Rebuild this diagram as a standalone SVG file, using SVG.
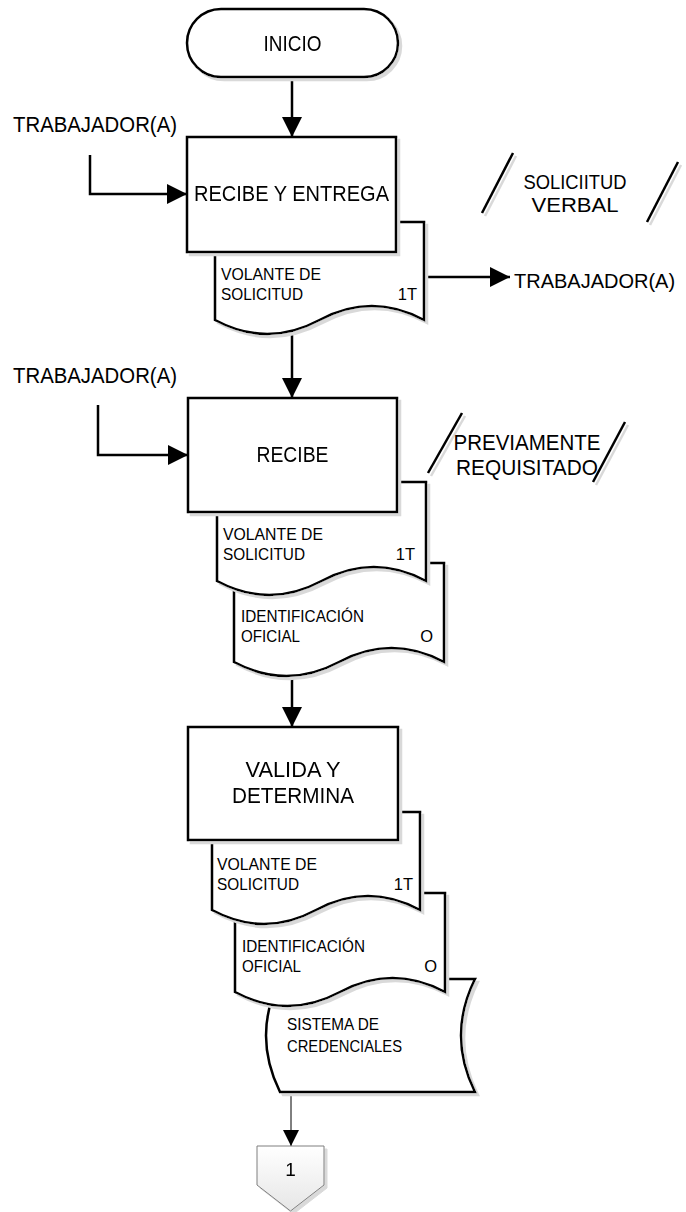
<svg xmlns="http://www.w3.org/2000/svg" width="686" height="1212" viewBox="0 0 686 1212">
<style>
.s{fill:#fff;stroke:#000;stroke-width:2.5;stroke-linejoin:miter}
.c{fill:none;stroke:#000;stroke-width:2.5}
.t{font-family:"Liberation Sans",Arial,sans-serif;fill:#000}
.b{font-size:22px}
.d{font-size:16.5px}
.m{text-anchor:middle}
.e{text-anchor:end}
</style>
<defs>
<filter id="sh" filterUnits="userSpaceOnUse" x="0" y="0" width="686" height="1212">
<feOffset in="SourceAlpha" dx="3" dy="3" result="o"/>
<feFlood flood-color="#d9d9d9"/>
<feComposite in2="o" operator="in" result="s"/>
<feMerge><feMergeNode in="s"/><feMergeNode in="SourceGraphic"/></feMerge>
</filter>
<marker id="ah" markerUnits="userSpaceOnUse" markerWidth="20" markerHeight="20" refX="20" refY="10" orient="auto">
<path d="M0,0 L20,10 L0,20 Z" fill="#000"/>
</marker>
<marker id="as" markerUnits="userSpaceOnUse" markerWidth="16" markerHeight="16" refX="16" refY="8" orient="auto">
<path d="M0,0 L16,8 L0,16 Z" fill="#000"/>
</marker>
<linearGradient id="pg" x1="0" y1="0" x2="0" y2="1">
<stop offset="0" stop-color="#ffffff"/>
<stop offset="1" stop-color="#e6e6e6"/>
</linearGradient>
</defs>

<g id="connectors">
<path class="c" d="M292,77 V137" marker-end="url(#ah)"/>
<path class="c" d="M90,155 V194 H187" marker-end="url(#ah)"/>
<path class="c" d="M424,277 H510" marker-end="url(#ah)"/>
<path class="c" d="M292,334 V398" marker-end="url(#ah)"/>
<path class="c" d="M98,405 V455 H188" marker-end="url(#ah)"/>
<path class="c" d="M292,676 V727" marker-end="url(#ah)"/>
<path d="M291,1092 V1146" fill="none" stroke="#000" stroke-width="1" marker-end="url(#as)"/>
</g>

<g id="inicio" filter="url(#sh)">
<rect class="s" x="187" y="9" width="211" height="68" rx="34" ry="34"/>
<text class="t b m" x="292.5" y="51" textLength="58" lengthAdjust="spacingAndGlyphs">INICIO</text>
</g>

<g id="trabajador1">
<text class="t b" x="13" y="132" textLength="164" lengthAdjust="spacingAndGlyphs">TRABAJADOR(A)</text>
</g>

<g id="doc1" filter="url(#sh)">
<path class="s" d="M215,320 V222 H424 V320 Q371.75,292 319.5,320 T215,320 Z"/>
</g>
<g id="doc1-text">
<text class="t d" x="221" y="280" textLength="100" lengthAdjust="spacingAndGlyphs">VOLANTE DE</text>
<text class="t d" x="221" y="300" textLength="82" lengthAdjust="spacingAndGlyphs">SOLICITUD</text>
<text class="t d e" x="417" y="300">1T</text>
</g>

<g id="box1" filter="url(#sh)">
<rect class="s" x="187" y="137" width="209" height="115"/>
<text class="t b m" x="291.5" y="201" textLength="195" lengthAdjust="spacingAndGlyphs">RECIBE Y ENTREGA</text>
</g>

<g id="nota1" filter="url(#sh)">
<line class="c" x1="513" y1="153" x2="482" y2="213"/>
<line class="c" x1="678" y1="162" x2="647" y2="222"/>
</g>
<g id="nota1-text">
<text class="t m" font-size="21" x="575" y="189" textLength="103" lengthAdjust="spacingAndGlyphs">SOLICIITUD</text>
<text class="t m" font-size="21" x="575" y="212" textLength="87" lengthAdjust="spacingAndGlyphs">VERBAL</text>
</g>

<g id="trabajador-salida">
<text class="t" font-size="20" x="514" y="288">TRABAJADOR(A)</text>
</g>

<g id="trabajador2">
<text class="t b" x="13" y="383" textLength="164" lengthAdjust="spacingAndGlyphs">TRABAJADOR(A)</text>
</g>

<g id="doc2b" filter="url(#sh)">
<path class="s" d="M234,662 V563 H444 V662 Q391.5,634 339,662 T234,662 Z"/>
</g>
<g id="doc2b-text">
<text class="t d" x="241" y="622" textLength="123" lengthAdjust="spacingAndGlyphs">IDENTIFICACIÓN</text>
<text class="t d" x="241" y="642" textLength="59" lengthAdjust="spacingAndGlyphs">OFICIAL</text>
<text class="t d e" x="433" y="642">O</text>
</g>

<g id="doc2a" filter="url(#sh)">
<path class="s" d="M217,581 V482 H426 V581 Q373.75,553 321.5,581 T217,581 Z"/>
</g>
<g id="doc2a-text">
<text class="t d" x="223" y="540" textLength="100" lengthAdjust="spacingAndGlyphs">VOLANTE DE</text>
<text class="t d" x="223" y="560" textLength="82" lengthAdjust="spacingAndGlyphs">SOLICITUD</text>
<text class="t d e" x="415" y="560">1T</text>
</g>

<g id="box2" filter="url(#sh)">
<rect class="s" x="188" y="398" width="209" height="114"/>
<text class="t b m" x="292.5" y="462" textLength="72" lengthAdjust="spacingAndGlyphs">RECIBE</text>
</g>

<g id="nota2" filter="url(#sh)">
<line class="c" x1="462" y1="413" x2="428" y2="473"/>
<line class="c" x1="625" y1="422" x2="593" y2="482"/>
</g>
<g id="nota2-text">
<text class="t b m" x="527" y="450" textLength="147" lengthAdjust="spacingAndGlyphs">PREVIAMENTE</text>
<text class="t b m" x="527" y="475" textLength="142" lengthAdjust="spacingAndGlyphs">REQUISITADO</text>
</g>

<g id="doc3c" filter="url(#sh)">
<path class="s" d="M280,979 H475 Q447,1035.5 475,1092 H280 Q252,1035.5 280,979 Z"/>
</g>
<g id="doc3c-text">
<text class="t d" x="287" y="1030" textLength="92" lengthAdjust="spacingAndGlyphs">SISTEMA DE</text>
<text class="t d" x="287" y="1052" textLength="115" lengthAdjust="spacingAndGlyphs">CREDENCIALES</text>
</g>

<g id="doc3b" filter="url(#sh)">
<path class="s" d="M235,992 V893 H445 V992 Q392.5,964 340,992 T235,992 Z"/>
</g>
<g id="doc3b-text">
<text class="t d" x="242" y="952" textLength="123" lengthAdjust="spacingAndGlyphs">IDENTIFICACIÓN</text>
<text class="t d" x="242" y="972" textLength="59" lengthAdjust="spacingAndGlyphs">OFICIAL</text>
<text class="t d e" x="437" y="972">O</text>
</g>

<g id="doc3a" filter="url(#sh)">
<path class="s" d="M212,910 V812 H420 V910 Q368,882 316,910 T212,910 Z"/>
</g>
<g id="doc3a-text">
<text class="t d" x="217" y="870" textLength="100" lengthAdjust="spacingAndGlyphs">VOLANTE DE</text>
<text class="t d" x="217" y="890" textLength="82" lengthAdjust="spacingAndGlyphs">SOLICITUD</text>
<text class="t d e" x="413" y="890">1T</text>
</g>

<g id="box3" filter="url(#sh)">
<rect class="s" x="188" y="727" width="210" height="113"/>
<text class="t b m" x="293" y="777" textLength="95" lengthAdjust="spacingAndGlyphs">VALIDA Y</text>
<text class="t b m" x="293" y="803" textLength="122" lengthAdjust="spacingAndGlyphs">DETERMINA</text>
</g>

<g id="conector1" filter="url(#sh)">
<polygon points="257,1146 324,1146 324,1185 290.5,1211 257,1185" fill="url(#pg)" stroke="#7f7f7f" stroke-width="1"/>
<text class="t m" font-size="19" x="290.5" y="1176">1</text>
</g>
</svg>
